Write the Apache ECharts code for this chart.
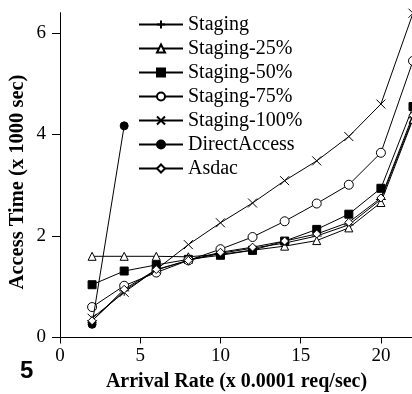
<!DOCTYPE html>
<html><head><meta charset="utf-8">
<script src="https://cdn.jsdelivr.net/npm/echarts@6/dist/echarts.min.js"></script>
<style>html,body{margin:0;padding:0;background:#fff}#c{width:412px;height:394px}</style>
</head><body><div id="c"></div>
<script>
const xRates = [2, 4, 6, 8, 10, 12, 14, 16, 18, 20, 22];
const staging     = [0.33, 0.92, 1.33, 1.52, 1.66, 1.76, 1.86, 2.00, 2.22, 2.72, 4.33];
const staging25   = [1.60, 1.60, 1.60, 1.59, 1.64, 1.72, 1.80, 1.91, 2.16, 2.66, 4.30];
const staging50   = [1.04, 1.31, 1.43, 1.54, 1.62, 1.72, 1.90, 2.13, 2.43, 2.94, 4.55];
const staging75   = [0.60, 1.02, 1.28, 1.52, 1.74, 1.98, 2.29, 2.64, 3.01, 3.64, 5.45];
const staging100  = [0.38, 0.89, 1.34, 1.83, 2.26, 2.65, 3.09, 3.48, 3.96, 4.60, 6.39];
const directAccess = [0.26, 4.17];
const asdac       = [0.33, 0.95, 1.34, 1.52, 1.68, 1.78, 1.90, 2.04, 2.27, 2.75, 4.38];
const seriesNames = ['Staging', 'Staging-25%', 'Staging-50%', 'Staging-75%', 'Staging-100%', 'DirectAccess', 'Asdac'];
const yTicks = [0, 2, 4, 6];
const xTicks = [0, 5, 10, 15, 20];
const xTitle = 'Arrival Rate (x 0.0001 req/sec)';
const yTitle = 'Access Time (x 1000 sec)';

const pairs = v => v.map((y, i) => [xRates[i], y]);
const PLUS = 'path://M0,5L10,5M5,0L5,10';
const CROSS = 'path://M0,0L10,10M10,0L0,10';
const styles = [
  {symbol: PLUS, size: 10, fill: 'none'},
  {symbol: 'triangle', size: 8, fill: '#fff'},
  {symbol: 'rect', size: 8, fill: '#000'},
  {symbol: 'circle', size: 9, fill: '#fff'},
  {symbol: CROSS, size: 9, fill: 'none'},
  {symbol: 'circle', size: 8, fill: '#000'},
  {symbol: 'diamond', size: 8, fill: '#fff'}
];
const datas = [staging, staging25, staging50, staging75, staging100, directAccess, asdac];
const serif = 'Liberation Serif';

const chart = echarts.init(document.getElementById('c'), null, {renderer: 'canvas'});
chart.setOption({
  animation: false,
  backgroundColor: '#fff',
  grid: {left: 60, right: -1, top: 12.7, bottom: 56.5, containLabel: false, outerBoundsMode: 'none'},
  legend: {
    orient: 'vertical', left: 133, top: 9.5, padding: 5,
    itemWidth: 44, itemHeight: 10, itemGap: 4,
    data: seriesNames,
    textStyle: {fontFamily: serif, fontSize: 20, color: '#000', lineHeight: 20}
  },
  xAxis: {
    type: 'value', min: 0, max: 22, interval: 5,
    name: xTitle, nameLocation: 'middle', nameGap: 34,
    nameTextStyle: {fontFamily: serif, fontSize: 20, fontWeight: 'bold', color: '#000'},
    axisLine: {show: true, lineStyle: {color: '#000', width: 1}},
    axisTick: {show: true, length: 6, lineStyle: {color: '#000'}, customValues: xTicks},
    axisLabel: {fontFamily: serif, fontSize: 19, color: '#000', margin: 9, customValues: xTicks},
    splitLine: {show: false}
  },
  yAxis: {
    type: 'value', min: 0, max: 6.4, interval: 2,
    axisLine: {show: true, lineStyle: {color: '#000', width: 1}},
    axisTick: {show: true, length: 8, lineStyle: {color: '#000'}, customValues: yTicks},
    axisLabel: {fontFamily: serif, fontSize: 19, color: '#000', margin: 14, customValues: yTicks},
    splitLine: {show: false}
  },
  series: seriesNames.map((n, i) => ({
    name: n, type: 'line', data: pairs(datas[i]),
    symbol: styles[i].symbol, symbolSize: styles[i].size, showAllSymbol: true,
    lineStyle: {color: '#000', width: 1},
    itemStyle: {color: styles[i].fill === 'none' ? 'rgba(0,0,0,0)' : styles[i].fill, borderColor: '#000', borderWidth: 1},
    clip: false, z: 2 + i
  })),
  graphic: [
    {type: 'text', x: 18, y: 182, rotation: Math.PI / 2,
     style: {text: yTitle, font: 'bold 20.5px "Liberation Serif"', fill: '#000', align: 'center', verticalAlign: 'middle'}},
    {type: 'text', left: 20, top: 359, style: {text: '5', font: 'bold 24px "Liberation Sans"', fill: '#000'}}
  ]
});
</script></body></html>
